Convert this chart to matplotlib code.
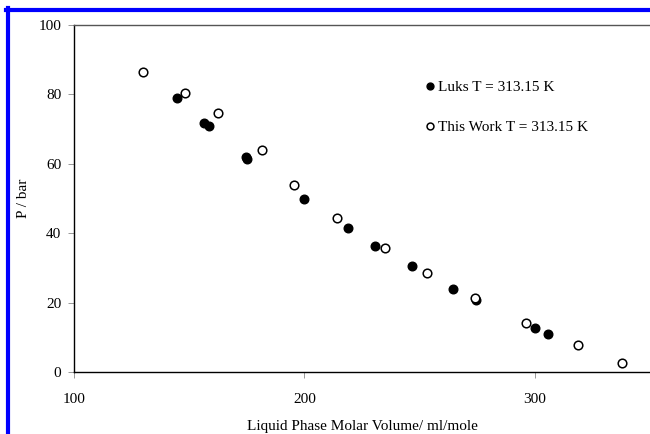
import matplotlib
matplotlib.use("agg")
import matplotlib.pyplot as plt
from matplotlib.lines import Line2D

# Luks data, T = 313.15 K (filled)
luks_v = [144.6, 156.3, 158.4, 174.5, 175.3, 200.0, 219.0, 230.7, 246.8, 264.5, 274.5, 300.0, 305.6]
luks_p = [79.0, 71.8, 70.9, 62.0, 61.4, 49.9, 41.5, 36.3, 30.5, 23.9, 20.7, 12.7, 11.0]

# This work, T = 313.15 K (open)
work_v = [129.9, 148.1, 162.3, 181.4, 195.7, 214.3, 235.1, 253.2, 274.0, 296.1, 318.6, 337.7]
work_p = [86.5, 80.4, 74.6, 64.0, 53.9, 44.4, 35.7, 28.5, 21.3, 14.1, 7.8, 2.6]

x_ticks = [100, 200, 300]
y_ticks = [0, 20, 40, 60, 80, 100]

plt.rcParams['font.family'] = ['Liberation Serif', 'DejaVu Serif']

fig = plt.figure(figsize=(6.5, 4.34), dpi=100)
ax = fig.add_axes([0.1138, 0.1429, 0.8862, 0.7995])

ax.plot(luks_v, luks_p, 'o', color='black', markersize=6.2, label='Luks T = 313.15 K')
ax.plot(work_v, work_p, 'o', markerfacecolor='white', markeredgecolor='black',
        markeredgewidth=1.1, markersize=6.2, label='This Work T = 313.15 K')

ax.set_xlim(100, 350)
ax.set_ylim(0, 100)
ax.set_xticks(x_ticks)
ax.set_yticks(y_ticks)
ax.tick_params(direction='out', length=4, width=0.6, color='#888888', labelsize=11)
ax.tick_params(axis='y', pad=5)
ax.tick_params(axis='x', pad=11)
ax.spines['right'].set_visible(False)
for s in ['left', 'bottom', 'top']:
    ax.spines[s].set_linewidth(1.0)
ax.spines['top'].set_color('#555555')

ax.set_xlabel('Liquid Phase Molar Volume/ ml/mole', fontsize=11, labelpad=10)
ax.set_ylabel('P / bar', fontsize=11)
ax.yaxis.set_label_coords(-0.076, 0.5)

ax.legend(loc='upper left', bbox_to_anchor=(0.581, 0.879), frameon=False, fontsize=11,
          handletextpad=0.05, handlelength=1.0, labelspacing=1.7, markerscale=0.8)

# blue border along the top and left edges
fig.add_artist(Line2D([7.5 / 650, 7.5 / 650], [0, 1 - 8 / 434], transform=fig.transFigure,
                      color='#0000ff', linewidth=3))
fig.add_artist(Line2D([5.5 / 650, 1], [1 - 9.5 / 434, 1 - 9.5 / 434], transform=fig.transFigure,
                      color='#0000ff', linewidth=3))

fig.savefig('out.png', dpi=100)
plt.close(fig)
